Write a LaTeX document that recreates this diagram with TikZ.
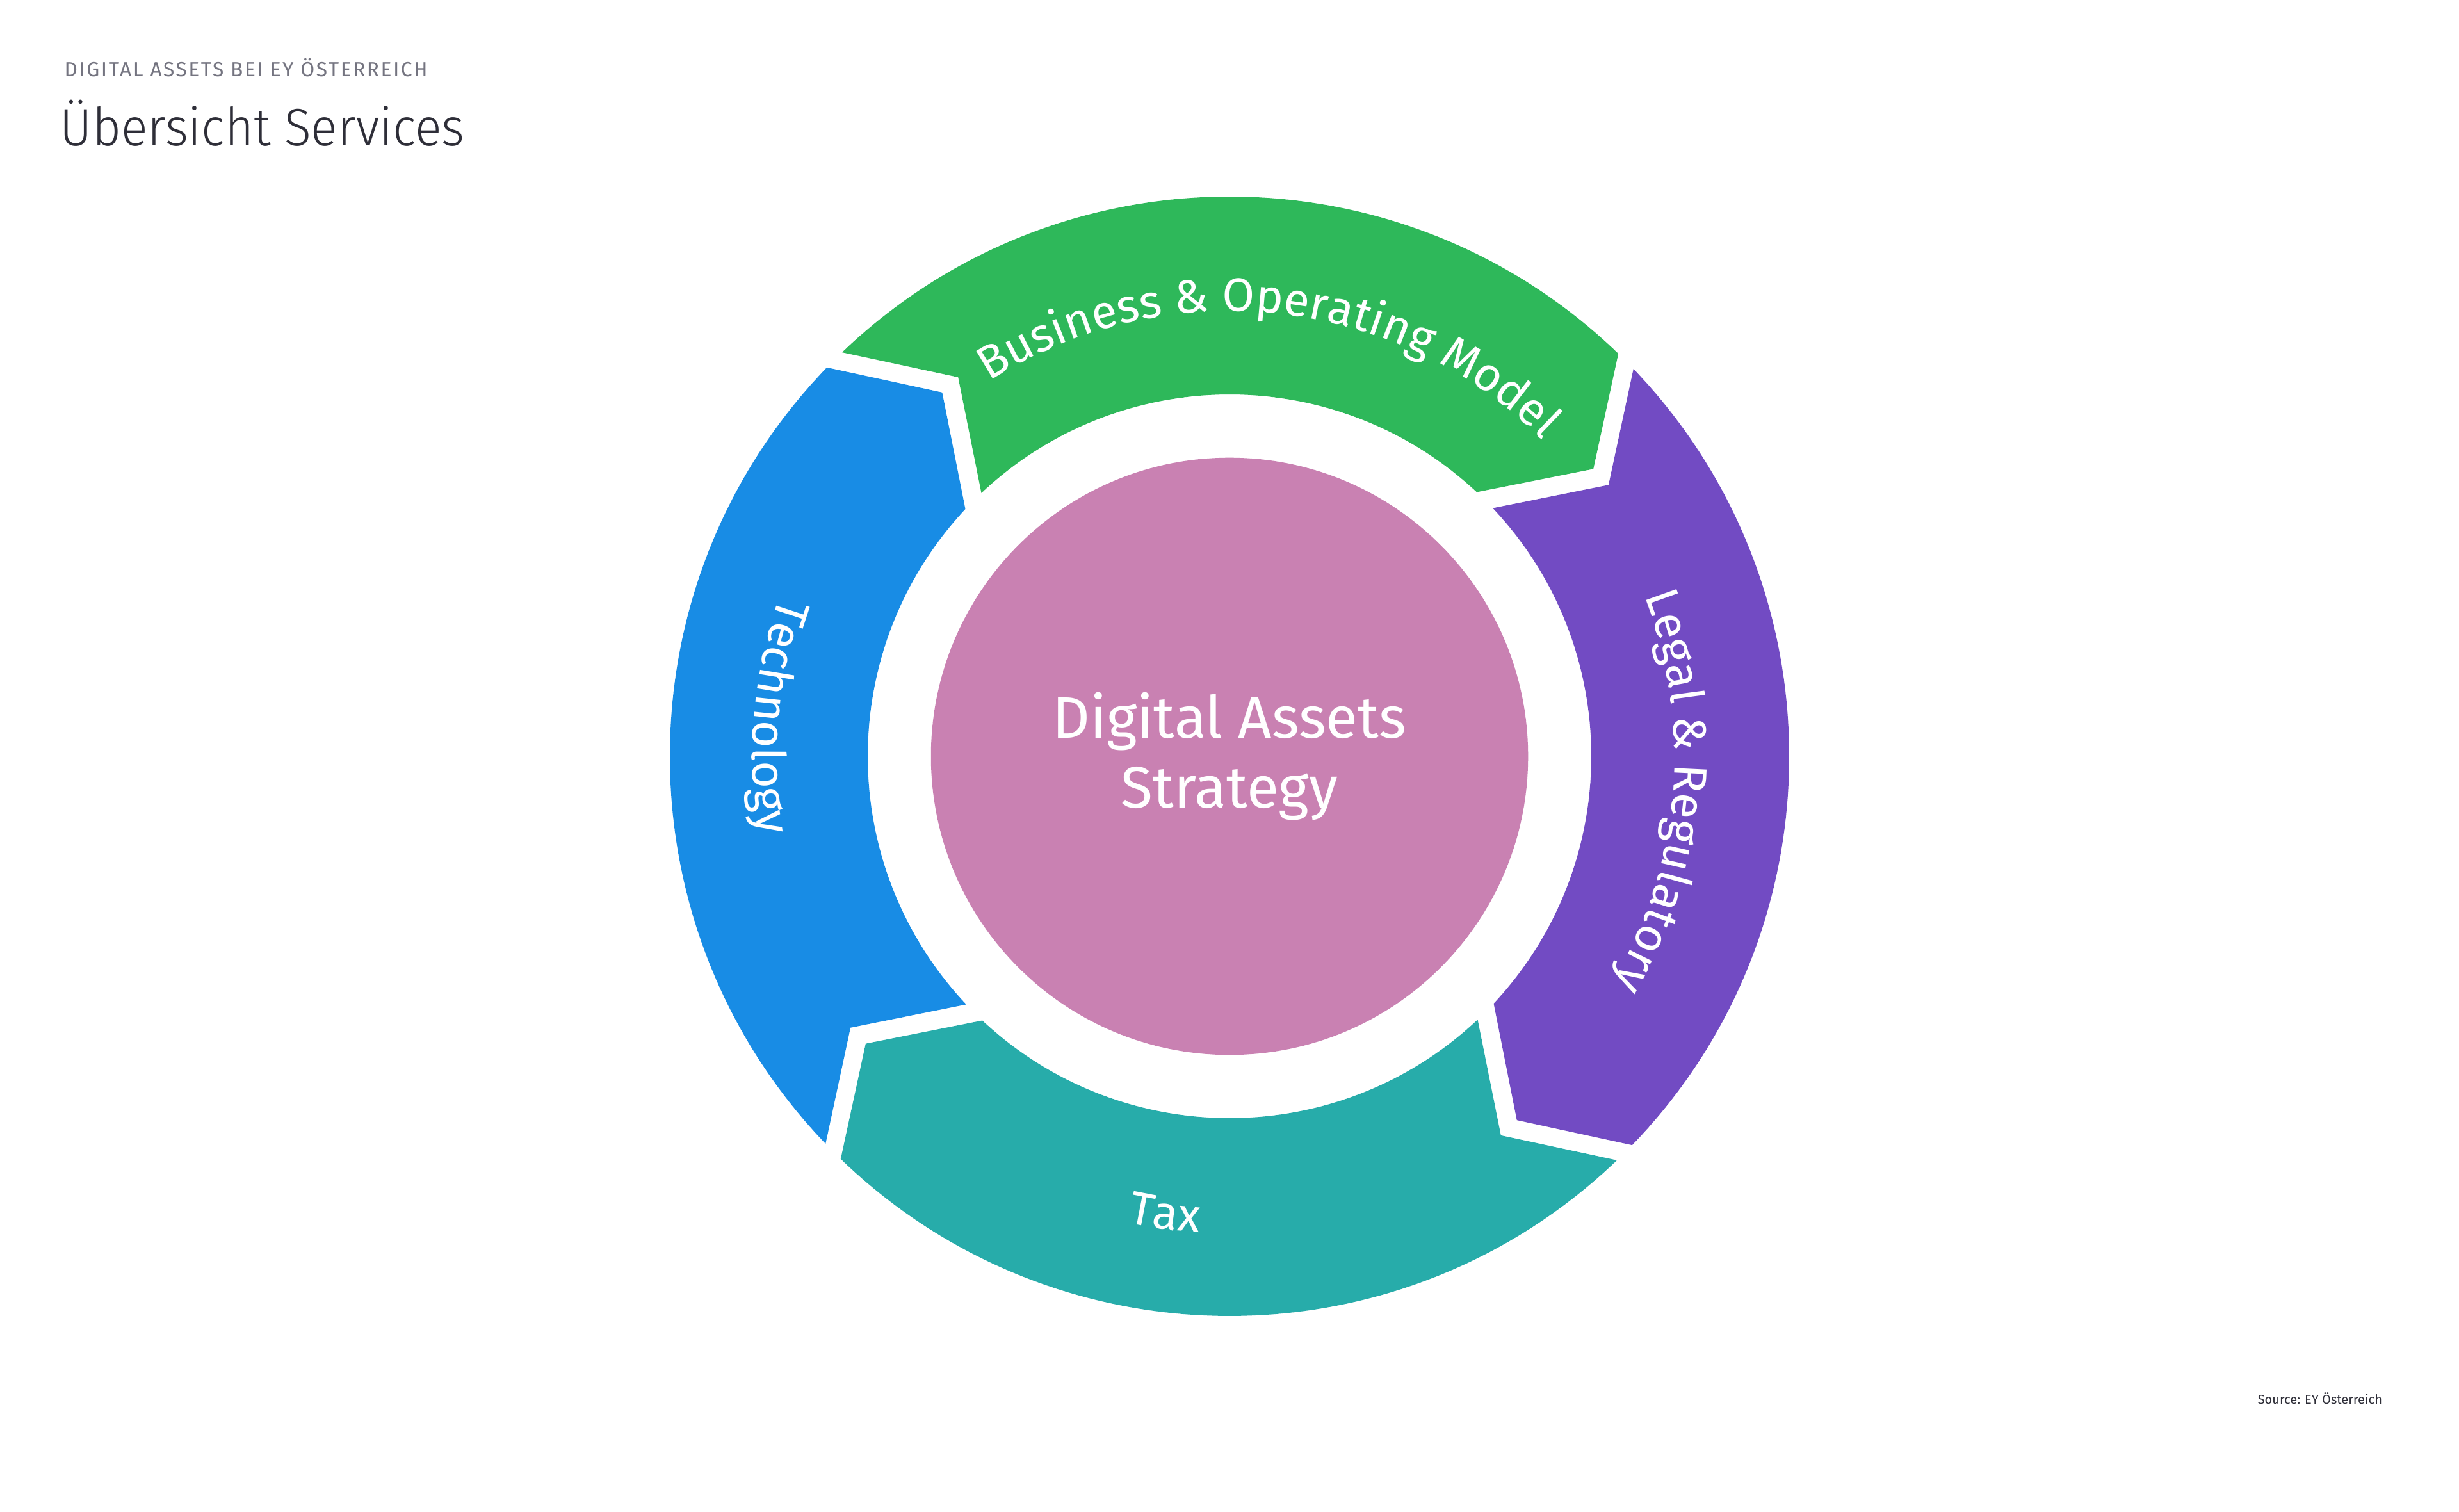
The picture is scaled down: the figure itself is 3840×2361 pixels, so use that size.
\documentclass[tikz,border=0pt]{standalone}
\usepackage{fontspec}
\setmainfont{Fira Sans}
\newfontfamily\lightfont{Fira Sans Light}[FakeStretch=0.94]
\newfontfamily\kickerfont{Fira Sans}[LetterSpace=8]
\usetikzlibrary{decorations.text}

\definecolor{eygreen}{HTML}{2EB85A}
\definecolor{eyblue}{HTML}{188CE5}
\definecolor{eypurple}{HTML}{724BC3}
\definecolor{eyteal}{HTML}{27ACAA}
\definecolor{eyrose}{HTML}{C981B2}
\definecolor{eydark}{HTML}{2E2E38}
\definecolor{eygrey}{HTML}{747480}

\newcommand\ringfont{\fontsize{20.8pt}{25pt}\selectfont}

\begin{document}
\begin{tikzpicture}[x=0.01cm, y=0.01cm,
    ringlabel/.style={decorate, decoration={text along path, text align=center,
        text color=white, text={|\ringfont|#1}}},
    heading/.style={anchor=base west, inner sep=0pt}]
  \useasboundingbox[fill=white] (0,0) rectangle (3840,2361);
  \coordinate (c) at (1920,1180);

  % ring segments, clockwise
  \begin{scope}[shift={(c)}]
    \foreach \a/\col in {90/eygreen, 0/eypurple, 270/eyteal, 180/eyblue}
      \fill[\col] ({\a+43.8}:874) arc[start angle={\a+43.8}, end angle={\a-44}, radius=874]
        -- ({\a-51.7}:724) -- ({\a-43.1}:565)
        arc[start angle={\a-43.1}, end angle={\a+43.3}, radius=565]
        -- ({\a+35.6}:728) -- cycle;

    \path[ringlabel={Business {\&} Operating Model}] (144:695) arc[start angle=144, end angle=24, radius=695];
    \path[ringlabel={Legal {\&} Regulatory}] (55.3:695) arc[start angle=55.3, end angle=-64.7, radius=695];
    \path[ringlabel={Tax}] (202:745) arc[start angle=202, end angle=322, radius=745];
    \path[ringlabel={Technology}] (115:745) arc[start angle=115, end angle=235, radius=745];
  \end{scope}

  \node[circle, fill=eyrose, minimum size=9.32cm, inner sep=0pt, text=white, align=center,
    font=\fontsize{26pt}{31pt}\selectfont] (core) at (c) {Digital Assets\\Strategy};

  \node[heading, text=eygrey, font=\kickerfont\fontsize{9pt}{11pt}\selectfont] (kicker) at (100,2241) {DIGITAL ASSETS BEI EY ÖSTERREICH};
  \node[heading, text=eydark, font=\lightfont\fontsize{23.4pt}{28pt}\selectfont] (title) at (93,2133) {Übersicht Services};
  \node[heading, text=eydark, font=\fontsize{5.7pt}{7pt}\selectfont] (source) at (3525,168) {Source: EY Österreich};
\end{tikzpicture}
\end{document}
